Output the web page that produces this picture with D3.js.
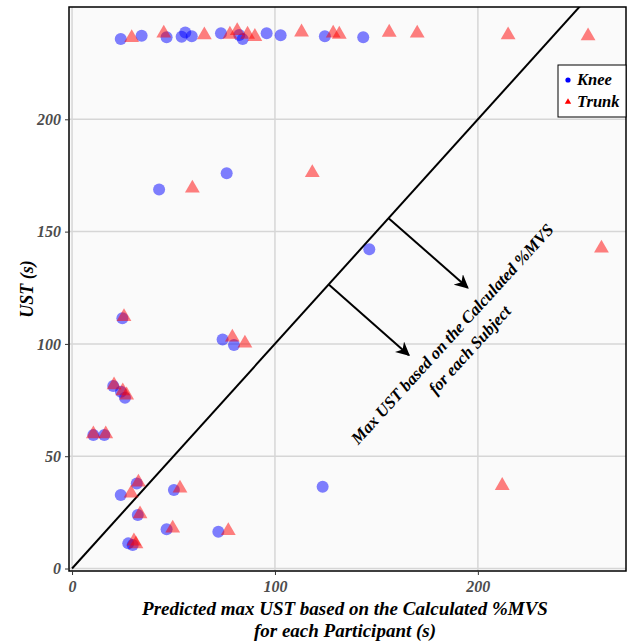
<!DOCTYPE html>
<html>
<head>
<meta charset="utf-8">
<script src="https://cdn.jsdelivr.net/npm/d3@7"></script>
<style>
body { margin: 0; background: #ffffff; }
text { font-family: "Liberation Serif", "Times New Roman", serif; }
</style>
</head>
<body>
<svg id="chart"></svg>
<script>
// knee (circles)
var kneeX = [24.0, 34.3, 46.6, 54.0, 55.8, 59.0, 73.4, 82.4, 84.1, 95.9, 102.8, 124.6, 143.5,
             42.9, 76.2, 146.5, 24.8, 74.2, 79.8, 20.3, 24.1, 26.1, 10.5, 15.9, 31.9, 24.0, 50.2,
             123.5, 32.4, 46.6, 72.1, 27.7, 29.9];
var kneeY = [235.8, 237.2, 236.5, 236.8, 238.6, 237.0, 238.3, 237.5, 235.7, 238.3, 237.4, 237.0, 236.5,
             168.8, 176.0, 142.1, 111.4, 102.0, 99.5, 81.3, 78.7, 76.0, 59.4, 59.4, 37.9, 32.7, 35.0,
             36.4, 23.8, 17.5, 16.4, 11.2, 10.5];
// trunk (triangles)
var trunkX = [29.4, 45.2, 65.2, 77.8, 81.4, 86.5, 90.1, 113.1, 128.7, 131.7, 156.3, 170.1, 214.9, 254.3,
              59.3, 118.4, 260.9, 25.6, 79.0, 85.2, 20.7, 25.0, 26.9, 10.5, 16.6, 32.7, 29.1, 53.2,
              212.0, 33.5, 49.6, 77.0, 30.5, 31.5];
var trunkY = [236.3, 238.3, 237.5, 237.8, 239.4, 237.8, 236.8, 238.8, 238.3, 237.8, 238.7, 238.3, 237.5, 237.1,
              169.3, 176.2, 142.6, 112.1, 103.0, 100.3, 81.7, 79.0, 77.2, 59.9, 59.9, 38.4, 33.5, 35.7,
              36.9, 24.3, 17.9, 16.8, 12.2, 10.9];

var xTicks = [0, 100, 200];
var yTicks = [0, 50, 100, 150, 200];
var legendLabels = ["Knee", "Trunk"];
// arrows pointing away from the identity line [x1, y1, x2, y2]
var arrows = [[126.5, 126.5, 166, 95], [156, 156, 195, 125]];

var width = 628, height = 643;
var pLeft = 69, pRight = 626, pTop = 7, pBottom = 571;

var svg = d3.select("#chart").attr("width", width).attr("height", height);

var x = d3.scaleLinear().domain([-1.5, 273]).range([pLeft, pRight]);
var y = d3.scaleLinear().domain([-1.1, 250]).range([pBottom, pTop]);

var defs = svg.append("defs");
defs.append("clipPath").attr("id", "clip")
  .append("rect").attr("x", pLeft).attr("y", pTop).attr("width", pRight - pLeft).attr("height", pBottom - pTop);
var marker = defs.append("marker").attr("id", "head")
  .attr("viewBox", "0 0 10 10").attr("refX", 9).attr("refY", 5)
  .attr("markerWidth", 7).attr("markerHeight", 7).attr("orient", "auto")
  .attr("markerUnits", "strokeWidth");
marker.append("path").attr("d", "M0,0 L10,5 L0,10 L3,5 Z").attr("fill", "#000");

// panel
svg.append("rect").attr("x", pLeft).attr("y", pTop).attr("width", pRight - pLeft).attr("height", pBottom - pTop)
  .attr("fill", "#fafafa");

var grid = svg.append("g");
grid.selectAll(".gx").data(xTicks).enter().append("line")
  .attr("x1", function(d) { return x(d); }).attr("x2", function(d) { return x(d); })
  .attr("y1", pTop).attr("y2", pBottom).attr("stroke", "#d6d6d6").attr("stroke-width", 1.5);
grid.selectAll(".gy").data(yTicks).enter().append("line")
  .attr("y1", function(d) { return y(d); }).attr("y2", function(d) { return y(d); })
  .attr("x1", pLeft).attr("x2", pRight).attr("stroke", "#d6d6d6").attr("stroke-width", 1.5);

var plot = svg.append("g").attr("clip-path", "url(#clip)");

// identity line
plot.append("line")
  .attr("x1", x(0)).attr("y1", y(0)).attr("x2", x(260)).attr("y2", y(260))
  .attr("stroke", "#000").attr("stroke-width", 2);

plot.selectAll(".arrow").data(arrows).enter().append("line")
  .attr("x1", function(d) { return x(d[0]); }).attr("y1", function(d) { return y(d[1]); })
  .attr("x2", function(d) { return x(d[2]); }).attr("y2", function(d) { return y(d[3]); })
  .attr("stroke", "#000").attr("stroke-width", 2).attr("marker-end", "url(#head)");

var knee = kneeX.map(function(d, i) { return [d, kneeY[i]]; });
var trunk = trunkX.map(function(d, i) { return [d, trunkY[i]]; });

plot.selectAll(".knee").data(knee).enter().append("circle")
  .attr("cx", function(d) { return x(d[0]); })
  .attr("cy", function(d) { return y(d[1]); })
  .attr("r", 6).attr("fill", "#0000ff").attr("fill-opacity", 0.5);

var tri = d3.symbol().type(d3.symbolTriangle).size(95);
plot.selectAll(".trunk").data(trunk).enter().append("path")
  .attr("d", tri)
  .attr("transform", function(d) { return "translate(" + x(d[0]) + "," + y(d[1]) + ")"; })
  .attr("fill", "#ff0000").attr("fill-opacity", 0.5);

// annotation
var ang = -47.6;
var note = svg.append("text")
  .attr("transform", "translate(" + x(187.3) + "," + y(104.5) + ") rotate(" + ang + ")")
  .attr("text-anchor", "middle").style("font-size", "16.8px")
  .style("font-weight", "bold").style("font-style", "italic");
note.append("tspan").attr("x", 0).attr("dy", "0.35em").text("Max UST based on the Calculated %MVS");
note.append("tspan").attr("x", 0).attr("dy", "1.4em").text("for each Subject");

// border
svg.append("rect").attr("x", pLeft).attr("y", pTop).attr("width", pRight - pLeft).attr("height", pBottom - pTop)
  .attr("fill", "none").attr("stroke", "#000").attr("stroke-width", 1.5);

// axes
var yAxis = svg.append("g").attr("transform", "translate(" + pLeft + ",0)")
  .call(d3.axisLeft(y).tickValues(yTicks).tickSize(4).tickPadding(4));
var xAxis = svg.append("g").attr("transform", "translate(0," + pBottom + ")")
  .call(d3.axisBottom(x).tickValues(xTicks).tickSize(4).tickPadding(6));
[xAxis, yAxis].forEach(function(a) {
  a.select(".domain").remove();
  a.selectAll(".tick line").attr("stroke", "#333").attr("stroke-width", 1);
  a.selectAll(".tick text").attr("fill", "#4d4d4d").style("font-size", "16px")
    .style("font-weight", "bold").style("font-style", "italic")
    .style("font-family", "'Liberation Serif', serif");
});

// axis titles
var xt = svg.append("text").attr("x", 345).attr("y", 615).attr("text-anchor", "middle")
  .style("font-size", "19px").style("font-weight", "bold").style("font-style", "italic");
xt.append("tspan").attr("x", 345).text("Predicted max UST based on the Calculated %MVS");
xt.append("tspan").attr("x", 345).attr("dy", 22).text("for each Participant (s)");

svg.append("text").attr("transform", "translate(33," + ((pTop + pBottom) / 2) + ") rotate(-90)")
  .attr("text-anchor", "middle")
  .style("font-size", "18px").style("font-weight", "bold").style("font-style", "italic")
  .text("UST (s)");

// legend
var lg = svg.append("g").attr("transform", "translate(558,65)");
lg.append("rect").attr("width", 68).attr("height", 52).attr("fill", "#fff")
  .attr("stroke", "#000").attr("stroke-width", 1);
lg.append("circle").attr("cx", 10).attr("cy", 15).attr("r", 2.6).attr("fill", "#0000ff");
lg.append("path").attr("d", d3.symbol().type(d3.symbolTriangle).size(18))
  .attr("transform", "translate(10,37)").attr("fill", "#ff0000");
lg.selectAll(".lt").data(legendLabels).enter().append("text")
  .attr("x", 19).attr("y", function(d, i) { return 20 + i * 22; })
  .style("font-size", "16.5px").style("font-weight", "bold").style("font-style", "italic")
  .text(function(d) { return d; });
</script>
</body>
</html>
